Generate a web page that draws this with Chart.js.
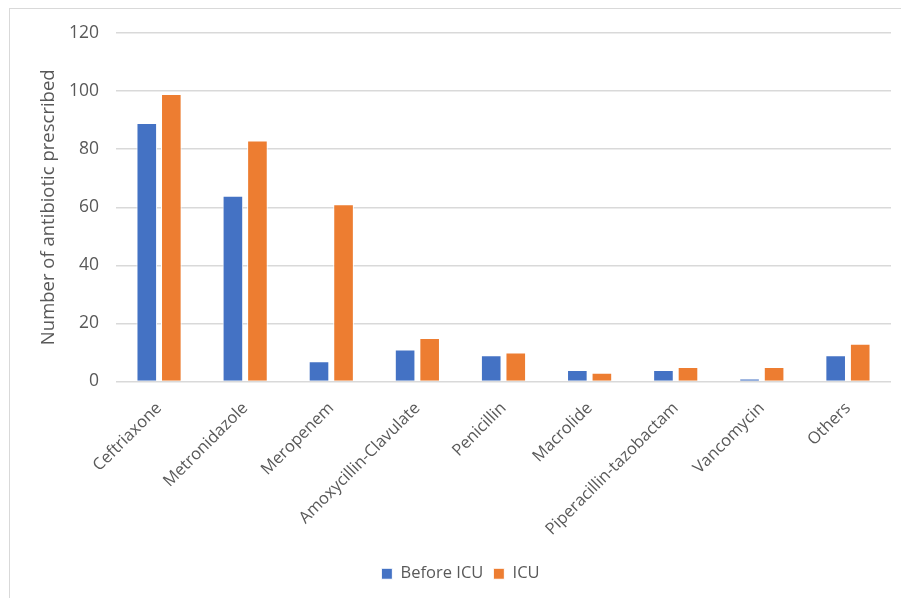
<!DOCTYPE html>
<html>
<head>
<meta charset="utf-8">
<script src="https://cdn.jsdelivr.net/npm/chart.js@4"></script>
<style>
  body { margin: 0; background: #fff; }
  #wrap { position: relative; width: 901px; height: 598px; overflow: hidden; }
  #frame { position: absolute; left: 9px; top: 8px; width: 1000px; height: 700px; border: 1px solid #d9d9d9; }
  canvas { position: absolute; left: 0; top: 0; }
</style>
</head>
<body>
<div id="wrap">
  <div id="frame"></div>
  <canvas id="abxChart" width="901" height="598"></canvas>
</div>
<script>
const categories = ["Ceftriaxone", "Metronidazole", "Meropenem", "Amoxycillin-Clavulate", "Penicillin", "Macrolide", "Piperacillin-tazobactam", "Vancomycin", "Others"];
const beforeIcu = [89, 64, 7, 11, 9, 4, 4, 1, 9];
const icu = [99, 83, 61, 15, 10, 3, 5, 5, 13];
const yTicks = [0, 20, 40, 60, 80, 100, 120];

const textColor = "#595959";
const fontFamily = "'Open Sans', 'DejaVu Sans', sans-serif";

const ctx = document.getElementById("abxChart").getContext("2d");
new Chart(ctx, {
    type: "bar",
    data: {
        labels: categories,
        datasets: [
            {
                label: "Before ICU",
                data: beforeIcu,
                backgroundColor: "#4472C4",
                borderColor: "#ffffff",
                borderWidth: 1,
                categoryPercentage: 0.57,
                barPercentage: 0.84
            },
            {
                label: "ICU",
                data: icu,
                backgroundColor: "#ED7D31",
                borderColor: "#ffffff",
                borderWidth: 1,
                categoryPercentage: 0.57,
                barPercentage: 0.84
            }
        ]
    },
    options: {
        responsive: false,
        animation: false,
        layout: { padding: { top: 33, left: 30, right: 10, bottom: 6 } },
        plugins: {
            tooltip: { enabled: false },
            legend: {
                position: "bottom",
                labels: {
                    color: textColor,
                    font: { family: fontFamily, size: 16.5 },
                    boxWidth: 11,
                    boxHeight: 11,
                    padding: 10
                }
            }
        },
        scales: {
            x: {
                grid: { display: false },
                border: { display: false },
                ticks: {
                    color: textColor,
                    font: { family: fontFamily, size: 16.5 },
                    maxRotation: 45,
                    minRotation: 45,
                    padding: 9
                },
                afterFit: s => { s.height = 174; }
            },
            y: {
                min: 0,
                max: 120,
                afterBuildTicks: s => { s.ticks = yTicks.map(v => ({ value: v })); },
                grid: { color: "#d9d9d9", lineWidth: 1.5, drawTicks: false },
                border: { display: false },
                ticks: {
                    color: textColor,
                    font: { family: fontFamily, size: 17.5 },
                    padding: 17
                },
                title: {
                    display: true,
                    text: "Number of antibiotic prescribed",
                    color: textColor,
                    font: { family: fontFamily, size: 18.5 },
                    padding: { top: 8, bottom: 0 }
                },
                afterFit: s => { s.width = 86; }
            }
        }
    }
});
</script>
</body>
</html>
